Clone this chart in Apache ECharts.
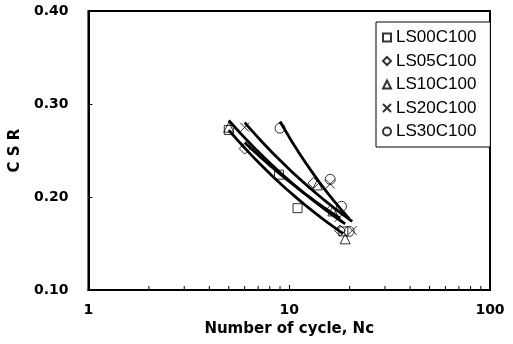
<!DOCTYPE html>
<html><head><meta charset="utf-8">
<script src="https://cdn.jsdelivr.net/npm/echarts@6/dist/echarts.min.js"></script>
<style>html,body{margin:0;padding:0;background:#fff}#c{width:513px;height:344px}</style>
</head><body><div id="c"></div>
<script>
const seriesNames = ['LS00C100','LS05C100','LS10C100','LS20C100','LS30C100'];
const ls00x = [5.0, 8.9, 11.0, 18.6];
const ls00y = [0.272, 0.224, 0.188, 0.163];
const ls05x = [6.0, 13.2, 16.2, 17.9];
const ls05y = [0.252, 0.215, 0.186, 0.164];
const ls10x = [5.0, 13.8, 16.5, 19.0];
const ls10y = [0.275, 0.213, 0.185, 0.155];
const ls20x = [6.0, 16.0, 17.7, 20.6];
const ls20y = [0.275, 0.214, 0.178, 0.164];
const ls30x = [9.0, 16.0, 18.2, 19.9];
const ls30y = [0.274, 0.219, 0.190, 0.163];
const xTickLabels = ['1','10','100'];
const yTicks = [0.10, 0.20, 0.30, 0.40];
const minorTickX = [2,3,4,5,6,7,8,9,20,30,40,50,60,70,80,90];

const xs = [ls00x, ls05x, ls10x, ls20x, ls30x];
const ys = [ls00y, ls05y, ls10y, ls20y, ls30y];
const symbols = ['rect','diamond','triangle','path://M0,0L10,10M10,0L0,10','circle'];
const symSizes = [9, 11, 10, 9, 10];

// power trend line (least squares on ln x, ln y), sampled between data min and max x
function powerFit(x, y) {
  const n = x.length;
  let sx=0, sy=0, sxx=0, sxy=0;
  for (let i=0;i<n;i++){ const lx=Math.log(x[i]), ly=Math.log(y[i]); sx+=lx; sy+=ly; sxx+=lx*lx; sxy+=lx*ly; }
  const b = (n*sxy - sx*sy)/(n*sxx - sx*sx);
  const a = Math.exp((sy - b*sx)/n);
  const lo = Math.min(...x), hi = Math.max(...x);
  const pts = [];
  const N = 30;
  for (let i=0;i<=N;i++){ const xv = lo*Math.pow(hi/lo, i/N); pts.push([xv, a*Math.pow(xv,b)]); }
  return pts;
}

const series = [];
seriesNames.forEach((nm, k) => {
  series.push({
    name: nm, type: 'scatter',
    data: xs[k].map((v,i)=>[v, ys[k][i]]),
    symbol: symbols[k], symbolSize: symSizes[k],
    itemStyle: { color: 'rgba(255,255,255,0)', borderColor: '#000', borderWidth: 1 },
    z: 3
  });
});
seriesNames.forEach((nm, k) => {
  series.push({
    type: 'line', data: powerFit(xs[k], ys[k]), showSymbol: false, smooth: false,
    lineStyle: { color: '#000', width: 2.8 }, silent: true, z: 4
  });
});
series.push({
  type: 'custom', silent: true, z: 5,
  data: minorTickX.map(v=>[v, yTicks[0]]),
  renderItem: function(params, api){
    const p = api.coord([api.value(0), api.value(1)]);
    return { type:'line', shape:{x1:p[0], y1:p[1], x2:p[0], y2:p[1]-4}, style:{stroke:'#000', lineWidth:1} };
  }
});

const chart = echarts.init(document.getElementById('c'), null, {renderer:'canvas'});
chart.setOption({
  animation: false,
  backgroundColor: '#fff',
  grid: { left: 88, right: 23, top: 11, bottom: 54, show: true, borderColor: '#000', borderWidth: 2, backgroundColor: 'transparent' },
  legend: {
    data: seriesNames, orient: 'vertical', left: 376, top: 22,
    backgroundColor: '#fff', borderColor: '#000', borderWidth: 1,
    padding: [7, 14, 7, 6], itemGap: 6.5, itemWidth: 8, itemHeight: 8,
    textStyle: { fontFamily: 'Liberation Sans', fontSize: 17, color: '#000' }
  },
  xAxis: {
    type: 'log', logBase: 10, min: 1, max: 100,
    name: 'Number of cycle, Nc', nameLocation: 'middle', nameGap: 31,
    nameTextStyle: { fontFamily: 'DejaVu Sans', fontWeight: 'bold', fontSize: 15, color: '#000' },
    axisLine: { show: true, lineStyle: { color: '#000', width: 2 } },
    axisTick: { show: true, inside: true, length: 5, lineStyle: { color: '#000', width: 1 } },
    axisLabel: { fontFamily: 'DejaVu Sans', fontWeight: 'bold', fontSize: 14, color: '#000', margin: 13,
      formatter: v => xTickLabels.find(t => Math.abs(Number(t) - v) < 1e-6) || '' },
    splitLine: { show: false }
  },
  yAxis: {
    type: 'value', min: 0.1, max: 0.4, interval: 0.1,
    name: 'C S R', nameLocation: 'middle', nameGap: 52, nameRotate: 90,
    nameTextStyle: { fontFamily: 'DejaVu Sans', fontWeight: 'bold', fontSize: 15, color: '#000' },
    axisLine: { show: true, lineStyle: { color: '#000', width: 2 } },
    axisTick: { show: true, inside: true, length: 4, lineStyle: { color: '#000', width: 1 } },
    axisLabel: { fontFamily: 'DejaVu Sans', fontWeight: 'bold', fontSize: 14, color: '#000', margin: 20,
      formatter: v => v.toFixed(2) },
    splitLine: { show: false }
  },
  series: series
});
</script>
</body></html>
